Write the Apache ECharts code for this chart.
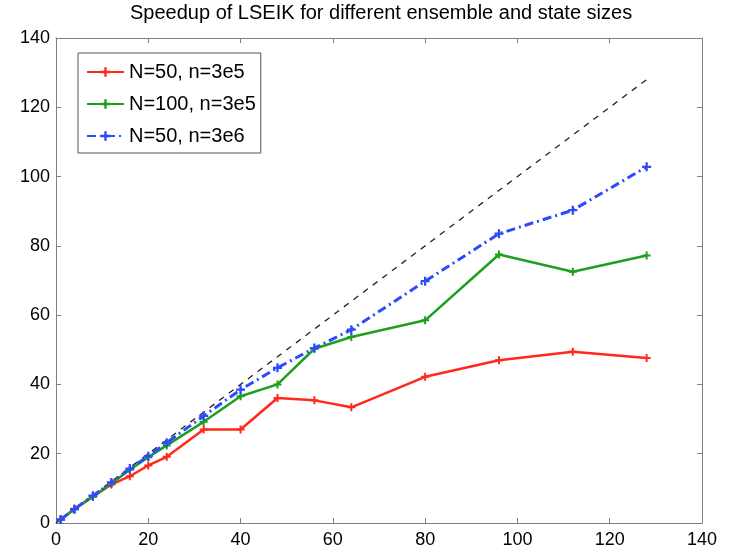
<!DOCTYPE html>
<html>
<head>
<meta charset="utf-8">
<script src="https://cdn.jsdelivr.net/npm/echarts@6/dist/echarts.min.js"></script>
<style>
  html, body { margin: 0; padding: 0; background: #fff; }
  #main { width: 730px; height: 554px; }
</style>
</head>
<body>
<div id="main"></div>
<script>
// processors used in the runs
var procs = [1, 4, 8, 12, 16, 20, 24, 32, 40, 48, 56, 64, 80, 96, 112, 128];
var speedupN50 = [1.0, 4.1, 7.6, 11.1, 13.5, 16.6, 19.1, 27.0, 27.0, 36.1, 35.4, 33.4, 42.2, 47.0, 49.4, 47.6];
var speedupN100 = [1.0, 4.0, 7.6, 11.4, 15.4, 19.0, 22.4, 29.2, 36.6, 40.0, 50.3, 53.7, 58.5, 77.5, 72.5, 77.2];
var speedupN50big = [1.0, 4.0, 7.9, 11.7, 15.7, 19.3, 23.2, 30.9, 38.5, 44.8, 50.5, 55.8, 69.8, 83.5, 90.3, 102.8];
var idealX = [0, 128];
var seriesNames = ["N=50, n=3e5", "N=100, n=3e5", "N=50, n=3e6"];
var ticks = [0, 20, 40, 60, 80, 100, 120, 140];

function pairs(xs, ys) {
  return xs.map(function(x, i) { return [x, ys[i]]; });
}

var plus = "path://M3,0H5V3H8V5H5V8H3V5H0V3H3Z";
var frameColor = "#808080";
var font = "Liberation Sans, Arial, Helvetica, sans-serif";

function axis(pos, labels) {
  return {
    type: "value",
    position: pos,
    min: ticks[0],
    max: ticks[ticks.length - 1],
    interval: 20,
    splitLine: { show: false },
    axisLine: { show: true, onZero: false, lineStyle: { color: frameColor, width: 1 } },
    axisTick: { show: true, inside: true, length: 5, lineStyle: { color: frameColor } },
    axisLabel: {
      show: labels,
      color: "#000",
      fontSize: 18,
      fontFamily: font,
      margin: pos === "bottom" ? 8 : 6,
      showMinLabel: true,
      showMaxLabel: true
    }
  };
}

var myChart = echarts.init(document.getElementById("main"));

myChart.setOption({
  backgroundColor: "#fff",
  animation: false,
  title: {
    text: "Speedup of LSEIK for different ensemble and state sizes",
    left: 130,
    top: 3,
    padding: 0,
    textStyle: { color: "#000", fontSize: 20, fontWeight: "normal", fontFamily: font }
  },
  legend: {
    data: seriesNames,
    orient: "vertical",
    left: 78,
    top: 53,
    padding: [9, 5, 7, 8],
    itemGap: 12,
    itemWidth: 37,
    itemHeight: 12,
    borderColor: "#555",
    borderWidth: 1,
    backgroundColor: "#fff",
    textStyle: { color: "#000", fontSize: 20, fontFamily: font, lineHeight: 20 }
  },
  grid: { left: 56, right: 28, top: 38, bottom: 31, containLabel: false },
  xAxis: [axis("bottom", true), axis("top", false)],
  yAxis: [axis("left", true), axis("right", false)],
  series: [
    {
      name: "ideal",
      type: "line",
      data: pairs(idealX, idealX),
      symbol: "none",
      lineStyle: { color: "#222", width: 1.3, type: [6, 6] },
      silent: true
    },
    {
      name: seriesNames[0],
      type: "line",
      data: pairs(procs, speedupN50),
      symbol: plus,
      symbolSize: 8,
      showAllSymbol: true,
      itemStyle: { color: "#ff2a1a" },
      lineStyle: { color: "#ff2a1a", width: 2.5 }
    },
    {
      name: seriesNames[1],
      type: "line",
      data: pairs(procs, speedupN100),
      symbol: plus,
      symbolSize: 8,
      showAllSymbol: true,
      itemStyle: { color: "#1f9f1f" },
      lineStyle: { color: "#1f9f1f", width: 2.5 }
    },
    {
      name: seriesNames[2],
      type: "line",
      data: pairs(procs, speedupN50big),
      symbol: plus,
      symbolSize: 9,
      showAllSymbol: true,
      itemStyle: { color: "#2b4bff" },
      lineStyle: { color: "#2b4bff", width: 3, type: [9, 4, 2, 4] }
    }
  ]
});
</script>
</body>
</html>
